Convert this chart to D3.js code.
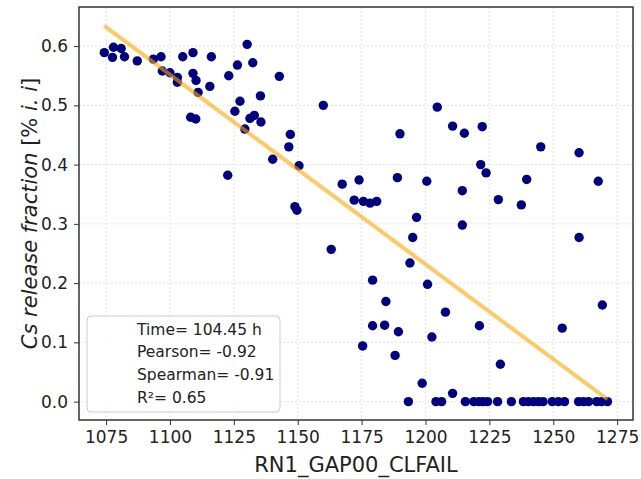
<!DOCTYPE html>
<html>
<head>
<meta charset="utf-8">
<script src="https://cdn.jsdelivr.net/npm/d3@7"></script>
<style>
  body { margin: 0; background: #fff; }
  svg { font-family: "DejaVu Sans", sans-serif; }
</style>
</head>
<body>
<div id="chart"></div>
<script>
// scatter points: RN1_GAP00_CLFAIL vs Cs release fraction
var gapX = [1074.3, 1077.5, 1077.9, 1080.9, 1082.2, 1087.2, 1093.5, 1096.5, 1097.0, 1100.0,
            1102.9, 1102.9, 1105.0, 1109.0, 1109.0, 1110.2, 1111.0, 1108.1, 1110.1, 1115.6,
            1116.2, 1122.6, 1123.0, 1125.4, 1126.4, 1127.4, 1130.2, 1132.4, 1131.3, 1133.0,
            1129.3, 1135.4, 1135.6, 1140.2, 1142.8, 1147.1, 1146.5, 1150.5, 1148.9, 1149.7,
            1160.0, 1204.6, 1190.0, 1210.6, 1215.2, 1222.2, 1221.6, 1223.7, 1245.1, 1260.1,
            1267.6, 1239.6, 1228.5, 1237.5, 1167.4, 1174.0, 1172.1, 1175.7, 1178.3, 1180.9,
            1189.0, 1200.5, 1214.4, 1196.5, 1214.4, 1195.0, 1260.1, 1163.1, 1193.9, 1179.3,
            1200.8, 1184.5, 1207.8, 1179.3, 1184.0, 1189.4, 1221.1, 1202.5, 1175.4, 1188.1,
            1229.3, 1253.5, 1269.2, 1198.7, 1210.6];
var releaseY = [0.589, 0.581, 0.598, 0.596, 0.582, 0.575, 0.578, 0.582, 0.558, 0.555,
                0.547, 0.539, 0.582, 0.589, 0.554, 0.542, 0.522, 0.480, 0.477, 0.532,
                0.582, 0.382, 0.550, 0.490, 0.568, 0.507, 0.603, 0.572, 0.478, 0.483,
                0.460, 0.516, 0.472, 0.409, 0.549, 0.451, 0.430, 0.398, 0.329, 0.323,
                0.500, 0.497, 0.452, 0.465, 0.453, 0.464, 0.400, 0.386, 0.430, 0.420,
                0.372, 0.375, 0.341, 0.332, 0.367, 0.374, 0.340, 0.338, 0.335, 0.338,
                0.378, 0.372, 0.356, 0.311, 0.298, 0.277, 0.277, 0.257, 0.234, 0.205,
                0.198, 0.169, 0.151, 0.128, 0.129, 0.118, 0.128, 0.109, 0.094, 0.078,
                0.063, 0.124, 0.163, 0.031, 0.014];
// runs that released nothing
var zeroX = [1193.3, 1204.1, 1206.3, 1215.6, 1218.9, 1220.9, 1222.5, 1224.3, 1228.2, 1233.6,
             1238.3, 1240.3, 1242.3, 1244.2, 1246.0, 1249.6, 1252.0, 1254.4, 1259.9, 1261.8,
             1263.8, 1267.0, 1268.9, 1271.2];

// fitted line ends
var fitX = [1074.3, 1271.2];
var fitY = [0.634, 0.004];

var xTicks = [1075, 1100, 1125, 1150, 1175, 1200, 1225, 1250, 1275];
var yTicks = [0.0, 0.1, 0.2, 0.3, 0.4, 0.5, 0.6];
var legendLines = ["Time= 104.45 h", "Pearson= -0.92", "Spearman= -0.91", "R\u00b2= 0.65"];

var width = 641, height = 479;
var margin = {top: 7, right: 8, bottom: 59, left: 79};
var innerW = width - margin.left - margin.right;
var innerH = height - margin.top - margin.bottom;

var points = gapX.map(function(d, i) { return {x: d, y: releaseY[i]}; });
zeroX.forEach(function(d) { points.push({x: d, y: 0}); });

var svg = d3.select("#chart").append("svg")
    .attr("width", width)
    .attr("height", height);

var g = svg.append("g").attr("transform", "translate(" + margin.left + "," + margin.top + ")");

var x = d3.scaleLinear().domain([1064.4, 1281.2]).range([0, innerW]);
var y = d3.scaleLinear().domain([-0.031, 0.666]).range([innerH, 0]);

// grid
g.append("g").selectAll("line").data(xTicks).enter().append("line")
    .attr("x1", function(d) { return x(d); }).attr("x2", function(d) { return x(d); })
    .attr("y1", 0).attr("y2", innerH)
    .attr("stroke", "#dcdcdc").attr("stroke-width", 0.8).attr("stroke-dasharray", "2,2");
g.append("g").selectAll("line").data(yTicks).enter().append("line")
    .attr("y1", function(d) { return y(d); }).attr("y2", function(d) { return y(d); })
    .attr("x1", 0).attr("x2", innerW)
    .attr("stroke", "#dcdcdc").attr("stroke-width", 0.8).attr("stroke-dasharray", "2,2");

// points
g.append("g").selectAll("circle").data(points).enter().append("circle")
    .attr("cx", function(d) { return x(d.x); })
    .attr("cy", function(d) { return y(d.y); })
    .attr("r", 4.7)
    .attr("fill", "#000080");

// regression line
var fit = fitX.map(function(d, i) { return [d, fitY[i]]; });
g.append("path")
    .datum(fit)
    .attr("d", d3.line().x(function(d) { return x(d[0]); }).y(function(d) { return y(d[1]); }))
    .attr("fill", "none")
    .attr("stroke", "orange")
    .attr("stroke-opacity", 0.6)
    .attr("stroke-width", 4);

// axes
var xAxis = g.append("g").attr("transform", "translate(0," + innerH + ")")
    .call(d3.axisBottom(x).tickValues(xTicks).tickFormat(d3.format("d")).tickSize(5).tickPadding(6));
var yAxis = g.append("g")
    .call(d3.axisLeft(y).tickValues(yTicks).tickFormat(d3.format(".1f")).tickSize(5).tickPadding(6));
[xAxis, yAxis].forEach(function(a) {
    a.select(".domain").remove();
    a.selectAll("text").attr("font-size", 17).attr("fill", "#222").attr("font-family", "DejaVu Sans");
    a.selectAll("line").attr("stroke", "#333");
});

// frame
g.append("rect")
    .attr("x", 0).attr("y", 0).attr("width", innerW).attr("height", innerH)
    .attr("fill", "none").attr("stroke", "#333").attr("stroke-width", 1.5);

// axis labels
svg.append("text")
    .attr("x", margin.left + innerW / 2)
    .attr("y", 472)
    .attr("text-anchor", "middle")
    .attr("font-size", 21)
    .attr("fill", "#222")
    .text("RN1_GAP00_CLFAIL");

var yl = svg.append("text")
    .attr("transform", "translate(37," + (margin.top + innerH / 2) + ") rotate(-90)")
    .attr("text-anchor", "middle")
    .attr("font-size", 21)
    .attr("fill", "#222");
yl.append("tspan").attr("font-style", "italic").text("Cs release fraction");
yl.append("tspan").text(" [% ");
yl.append("tspan").attr("font-style", "italic").text("i. i");
yl.append("tspan").text("]");

// legend box
var leg = svg.append("g").attr("transform", "translate(87,316)");
leg.append("rect")
    .attr("width", 193).attr("height", 96).attr("rx", 4)
    .attr("fill", "#fff").attr("fill-opacity", 0.8)
    .attr("stroke", "#cccccc").attr("stroke-width", 1);
leg.selectAll("text").data(legendLines).enter().append("text")
    .attr("x", 50)
    .attr("y", function(d, i) { return 13 + i * 22.7; })
    .attr("dy", "0.36em")
    .attr("font-size", 15.5)
    .attr("fill", "#222")
    .text(function(d) { return d; });
</script>
</body>
</html>
